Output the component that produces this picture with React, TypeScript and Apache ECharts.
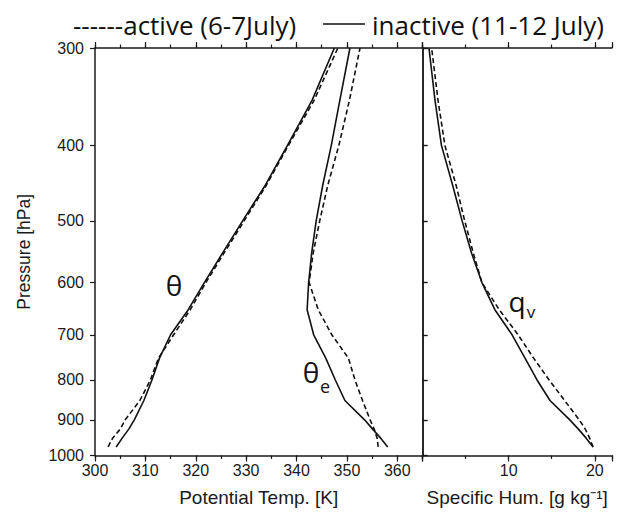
import React, { useEffect, useRef } from "react";
import * as echarts from "echarts";

// Pressure levels [hPa]
const pressure = [975, 950, 925, 900, 850, 800, 750, 700, 650, 600, 550, 500, 450, 400, 350, 300];

// Potential temperature [K]
const thetaActive = [302.6, 303.5, 305.0, 306.0, 308.9, 311.0, 312.6, 315.6, 318.9, 322.0, 325.6, 329.6, 334.0, 338.4, 343.5, 348.2];
const thetaInactive = [304.2, 305.4, 306.7, 307.8, 309.7, 311.3, 312.8, 315.0, 318.5, 321.7, 325.3, 329.3, 333.8, 338.2, 343.1, 347.5];

// Equivalent potential temperature [K]
const thetaEActive = [356.2, 356.0, 355.4, 354.6, 353.1, 351.6, 350.3, 347.0, 344.3, 342.5, 343.3, 344.6, 346.2, 348.4, 350.5, 352.6];
const thetaEInactive = [358.1, 356.7, 355.1, 353.5, 349.6, 347.7, 345.8, 343.4, 342.1, 342.4, 343.0, 343.9, 345.2, 346.9, 348.6, 350.6];

// Specific humidity [g/kg]
const qvActive = [19.8, 19.4, 18.9, 18.2, 16.5, 14.7, 12.9, 11.1, 8.9, 6.9, 5.9, 4.9, 3.9, 2.6, 1.8, 1.06];
const qvInactive = [19.8, 19.0, 18.1, 17.1, 14.8, 13.3, 11.9, 10.4, 8.4, 6.9, 5.7, 4.6, 3.5, 2.2, 1.45, 0.75];

// Tick labels
const pTicks = [300, 400, 500, 600, 700, 800, 900, 1000];
const thetaLabels = [300, 310, 320, 330, 340, 350, 360];
const qvLabels = [10, 20];

const AX = "'Liberation Sans', Arial, Helvetica, sans-serif";
const TX = "'Open Sans', 'Noto Sans', sans-serif";
const INK = "#111";

function pairs(xs: number[]) {
  return xs.map((x, i) => [x, pressure[i]]);
}

export default function App() {
  const ref = useRef<HTMLDivElement>(null);

  useEffect(() => {
    if (!ref.current) return;
    const chart = echarts.init(ref.current, null, { renderer: "svg" });

    const line = { show: true, lineStyle: { color: "#1a1a1a", width: 1.5 } };
    const noLine = { show: false };

    const mkX = (
      gridIndex: number,
      min: number,
      max: number,
      interval: number,
      position: string,
      tickLen: number,
      showLine: boolean,
      labels: number[] | null,
      name?: string
    ) => ({
      type: "value",
      gridIndex,
      min,
      max,
      interval,
      position,
      axisLine: showLine ? line : noLine,
      axisTick: { show: true, length: tickLen, lineStyle: { color: "#1a1a1a", width: 1.2 } },
      axisLabel: labels
        ? {
            show: true,
            margin: 7,
            fontSize: 16,
            fontFamily: AX,
            color: "#1a1a1a",
            formatter: (v: number) => (labels.indexOf(v) >= 0 ? String(v) : ""),
          }
        : { show: false },
      splitLine: { show: false },
      name: name || "",
      nameLocation: "middle",
      nameGap: 32,
      nameTextStyle: { fontSize: 19, fontFamily: AX, color: "#1a1a1a" },
    });

    const mkY = (gridIndex: number, position: string, showLabels: boolean, show = true, name?: string) => ({
      type: "log",
      logBase: 10,
      gridIndex,
      min: 300,
      max: 1000,
      inverse: true,
      position,
      show,
      axisLine: line,
      axisTick: {
        show: true,
        length: 5,
        customValues: pTicks,
        lineStyle: { color: "#1a1a1a", width: 1.2 },
      },
      axisLabel: showLabels
        ? {
            show: true,
            customValues: pTicks,
            margin: 11,
            fontSize: 16,
            fontFamily: AX,
            color: "#1a1a1a",
            formatter: (v: number) => String(Math.round(v)),
          }
        : { show: false },
      splitLine: { show: false },
      minorTick: { show: false },
      minorSplitLine: { show: false },
      name: name || "",
      nameLocation: "middle",
      nameGap: 62,
      nameTextStyle: { fontSize: 17.5, fontFamily: AX, color: "#1a1a1a" },
    });

    const dashed = { color: INK, width: 1.6, type: [5, 3] as number[] };
    const solid = { color: INK, width: 1.6, type: "solid" };
    const mkS = (name: string, data: number[], xi: number, yi: number, ls: any) => ({
      type: "line",
      name,
      xAxisIndex: xi,
      yAxisIndex: yi,
      data: pairs(data),
      symbol: "none",
      showSymbol: false,
      smooth: false,
      lineStyle: ls,
      silent: true,
    });

    chart.setOption({
      animation: false,
      backgroundColor: "#ffffff",
      grid: [
        { left: 95, top: 48, width: 327.5, height: 407.5, containLabel: false },
        { left: 422.5, top: 48, width: 189.5, height: 407.5, containLabel: false },
      ],
      xAxis: [
        mkX(0, 300, 365, 10, "bottom", 6, true, thetaLabels, "Potential Temp. [K]"),
        mkX(0, 300, 365, 5, "bottom", 3.5, false, null),
        mkX(0, 300, 365, 10, "top", 6, true, null),
        mkX(0, 300, 365, 5, "top", 3.5, false, null),
        mkX(1, 0, 22, 10, "bottom", 6, true, qvLabels, "Specific Hum. [g kg\u207B\u00B9]"),
        mkX(1, 0, 22, 5, "bottom", 3.5, false, null),
        mkX(1, 0, 22, 10, "top", 6, true, null),
        mkX(1, 0, 22, 5, "top", 3.5, false, null),
      ],
      yAxis: [
        mkY(0, "left", true, true, "Pressure [hPa]"),
        mkY(0, "right", false),
        mkY(1, "left", false, false),
        mkY(1, "right", false),
      ],
      series: [
        mkS("active (6-7July)", thetaActive, 0, 0, dashed),
        mkS("inactive (11-12 July)", thetaInactive, 0, 0, solid),
        mkS("active (6-7July)", thetaEActive, 0, 0, dashed),
        mkS("inactive (11-12 July)", thetaEInactive, 0, 0, solid),
        mkS("active (6-7July)", qvActive, 4, 2, dashed),
        mkS("inactive (11-12 July)", qvInactive, 4, 2, solid),
      ],
      graphic: [
        {
          type: "text",
          left: 73,
          top: 12,
          style: { text: "------active (6-7July)", fontSize: 26, fontFamily: TX, fill: INK },
        },
        {
          type: "line",
          shape: { x1: 323, y1: 24, x2: 365, y2: 24 },
          style: { stroke: INK, lineWidth: 1.6 },
        },
        {
          type: "text",
          left: 372,
          top: 12,
          style: { text: "inactive (11-12 July)", fontSize: 26, fontFamily: TX, fill: INK },
        },
        {
          type: "text",
          x: 174,
          y: 285,
          style: { text: "\u03B8", fontSize: 28, fontFamily: TX, fill: INK, align: "center", verticalAlign: "middle" },
        },
        {
          type: "text",
          x: 311,
          y: 372,
          style: { text: "\u03B8", fontSize: 28, fontFamily: TX, fill: INK, align: "center", verticalAlign: "middle" },
        },
        {
          type: "text",
          x: 325,
          y: 386,
          style: { text: "e", fontSize: 18, fontFamily: TX, fill: INK, align: "center", verticalAlign: "middle" },
        },
        {
          type: "text",
          x: 517,
          y: 301,
          style: { text: "q", fontSize: 28, fontFamily: TX, fill: INK, align: "center", verticalAlign: "middle" },
        },
        {
          type: "text",
          x: 531,
          y: 311,
          style: { text: "v", fontSize: 17, fontFamily: TX, fill: INK, align: "center", verticalAlign: "middle" },
        },
      ],
    });

    return () => {
      chart.dispose();
    };
  }, []);

  return (
    <div
      ref={ref}
      style={{ position: "absolute", left: 0, top: 0, width: 622, height: 514, background: "#fff" }}
    />
  );
}
